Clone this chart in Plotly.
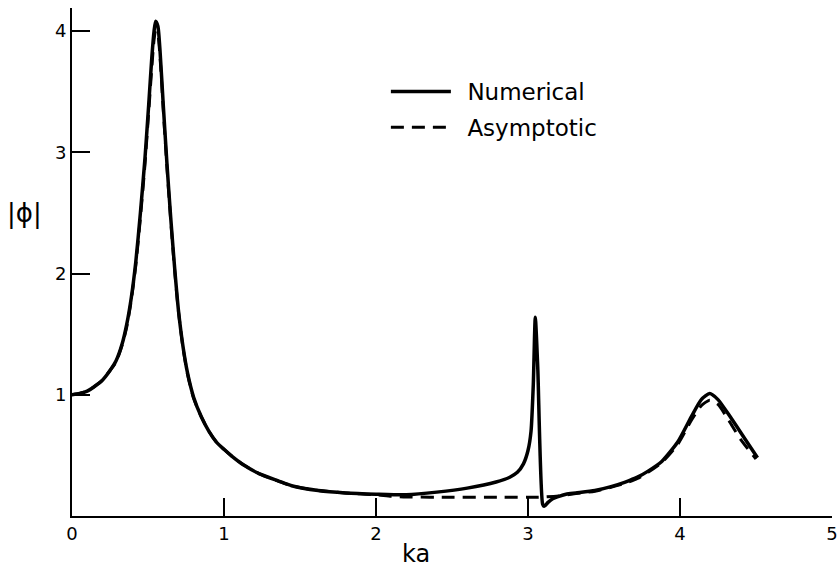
import plotly.graph_objects as go

# |phi| versus ka, numerical solution
ka_numerical = [0.00, 0.05, 0.10, 0.15, 0.20, 0.25, 0.29, 0.33, 0.36, 0.39, 0.42, 0.45, 0.48,
                0.505, 0.525, 0.54, 0.55, 0.565, 0.58, 0.60, 0.625, 0.65, 0.675, 0.70, 0.73,
                0.76, 0.80, 0.85, 0.90, 0.95, 1.00, 1.055, 1.13, 1.23, 1.357, 1.445, 1.62, 1.80,
                2.00, 2.20, 2.40, 2.60, 2.79, 2.88, 2.93, 2.97, 3.00, 3.02, 3.035, 3.048, 3.064,
                3.096, 3.107, 3.13, 3.16, 3.25, 3.315, 3.44, 3.54, 3.64, 3.72, 3.79, 3.88,
                3.985, 4.075, 4.14, 4.195, 4.25, 4.335, 4.42, 4.51]
phi_numerical = [1.00, 1.01, 1.03, 1.07, 1.12, 1.20, 1.28, 1.42, 1.58, 1.80, 2.10, 2.50, 2.95,
                 3.40, 3.78, 4.00, 4.08, 4.04, 3.82, 3.40, 2.90, 2.45, 2.05, 1.70, 1.40,
                 1.18, 0.98, 0.82, 0.70, 0.61, 0.55, 0.49, 0.42, 0.35, 0.29, 0.25, 0.21, 0.19,
                 0.18, 0.175, 0.197, 0.23, 0.28, 0.32, 0.36, 0.43, 0.54, 0.70, 1.09, 1.64, 1.23,
                 0.10, 0.08, 0.11, 0.14, 0.18, 0.19, 0.21, 0.24, 0.28, 0.32, 0.37, 0.45,
                 0.61, 0.82, 0.96, 1.01, 0.96, 0.81, 0.65, 0.48]

# |phi| versus ka, asymptotic approximation
ka_asymptotic = [0.00, 0.05, 0.10, 0.15, 0.20, 0.25, 0.29, 0.33, 0.36, 0.39, 0.42, 0.45, 0.48,
                 0.505, 0.525, 0.54, 0.55, 0.565, 0.58, 0.60, 0.625, 0.65, 0.675, 0.70, 0.73,
                 0.76, 0.80, 0.85, 0.90, 0.95, 1.00, 1.055, 1.13, 1.23, 1.445, 1.62, 1.80,
                 2.00, 2.10, 2.20, 2.50, 2.80, 3.07, 3.20, 3.315, 3.44, 3.54, 3.64, 3.72, 3.79,
                 3.88, 3.985, 4.075, 4.14, 4.195, 4.25, 4.32, 4.40, 4.50]
phi_asymptotic = [1.00, 1.01, 1.03, 1.07, 1.12, 1.20, 1.27, 1.41, 1.56, 1.78, 2.07, 2.46, 2.90,
                  3.34, 3.70, 3.93, 4.00, 3.97, 3.77, 3.36, 2.87, 2.43, 2.03, 1.69, 1.39,
                  1.17, 0.97, 0.82, 0.70, 0.61, 0.55, 0.49, 0.42, 0.35, 0.25, 0.21, 0.19,
                  0.175, 0.163, 0.157, 0.155, 0.155, 0.155, 0.165, 0.185, 0.205, 0.235, 0.27, 0.31, 0.36,
                  0.44, 0.59, 0.79, 0.91, 0.955, 0.92, 0.79, 0.63, 0.47]

x_ticks = [0, 1, 2, 3, 4, 5]
y_ticks = [1, 2, 3, 4]

FONT = "DejaVu Sans"

fig = go.Figure()
fig.add_trace(go.Scatter(
    x=ka_numerical, y=phi_numerical, mode="lines", name="\u2002Numerical",
    legendgroup="num",
    line=dict(color="black", width=3.5, shape="spline", smoothing=0.6),
))
fig.add_trace(go.Scatter(
    x=ka_asymptotic, y=phi_asymptotic, mode="lines", name="\u2002Asymptotic",
    legendgroup="asy",
    line=dict(color="black", width=3, dash="13px,8px", shape="spline", smoothing=0.6),
))

fig.update_layout(
    width=839, height=568,
    margin=dict(l=72, r=7, t=8, b=52, autoexpand=False),
    paper_bgcolor="white", plot_bgcolor="white",
    font=dict(family=FONT, color="black", size=18),
    showlegend=True,
    legend=dict(
        x=0.413, y=0.878, xanchor="left", yanchor="top",
        bgcolor="rgba(0,0,0,0)", font=dict(size=23, family=FONT),
        itemwidth=60, tracegroupgap=3,
    ),
    xaxis=dict(
        range=[0, 5], tickvals=x_ticks, ticktext=[str(v) for v in x_ticks],
        showline=True, linecolor="black", linewidth=2,
        ticks="inside", ticklen=18, tickwidth=1.5, tickcolor="black",
        showgrid=False, zeroline=False, tickfont=dict(size=18),
        ticklabeloverflow="allow", automargin=False,
    ),
    yaxis=dict(
        range=[0, 4.19], tickvals=y_ticks, ticktext=[str(v) for v in y_ticks],
        showline=True, linecolor="black", linewidth=2,
        ticks="inside", ticklen=18, tickwidth=1.5, tickcolor="black",
        showgrid=False, zeroline=False, tickfont=dict(size=18),
        automargin=False,
    ),
    annotations=[
        dict(text="ka", xref="paper", yref="paper", x=0.452, y=-0.074,
             xanchor="center", yanchor="middle", showarrow=False,
             font=dict(size=24, family=FONT)),
        dict(text="|ϕ|", xref="paper", yref="paper", x=-0.062, y=0.596,
             xanchor="center", yanchor="middle", showarrow=False,
             font=dict(size=26, family=FONT)),
    ],
)

fig.write_html("out.html")
